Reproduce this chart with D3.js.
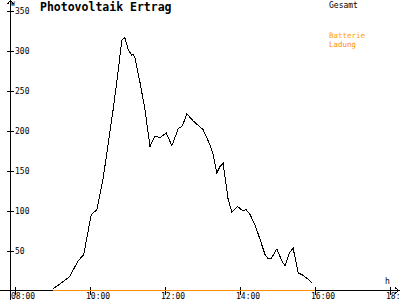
<!DOCTYPE html>
<html>
<head>
<meta charset="utf-8">
<script src="https://cdn.jsdelivr.net/npm/d3@7"></script>
<style>
  html, body { margin: 0; padding: 0; background: #fff; }
  svg { display: block; }
  text { font-family: "DejaVu Sans Mono", "Liberation Mono", monospace; }
</style>
</head>
<body>
<div id="chart"></div>
<script>
// Gesamt (W) over the day
const times = ["09:01", "09:27", "09:41", "09:50", "10:02", "10:11", "10:21", "10:37", "10:44", "10:51",
    "10:56", "11:01", "11:07", "11:09", "11:12", "11:20", "11:28", "11:36", "11:44", "11:52",
    "12:02", "12:11", "12:21", "12:28", "12:35", "12:45", "13:01", "13:12", "13:17", "13:23",
    "13:28", "13:33", "13:41", "13:47", "13:56", "14:04", "14:10", "14:16", "14:24", "14:32",
    "14:40", "14:45", "14:50", "14:59", "15:07", "15:12", "15:19", "15:25", "15:33", "15:41",
    "15:49", "15:56"];
const gesamt = [2, 17, 37, 45, 95, 101, 140, 226, 268, 313,
    316, 301, 294, 295, 291, 260, 226, 180, 193, 191,
    197, 181, 202, 206, 221, 212, 201, 182, 170, 147,
    155, 159, 114, 98, 105, 100, 101, 95, 82, 64,
    45, 40, 40, 52, 37, 31, 47, 53, 22, 19,
    14, 9];

// Batterie Ladung
const ladungTimes = ["09:01", "16:00"];
const ladung = [0, 0];

const yTicks = [50, 100, 150, 200, 250, 300, 350];
const xTicks = ["08:00", "10:00", "12:00", "14:00", "16:00", "18:00"];

const width = 400, height = 300;
const toHours = s => { const [h, m] = s.split(":").map(Number); return h + m / 60; };

const x = d3.scaleLinear().domain([8, 18]).range([15, 390]);
const y = d3.scaleLinear().domain([0, 350]).range([290.5, 10.5]);

const svg = d3.select("#chart").append("svg")
    .attr("width", width).attr("height", height);

// axes
const axisX = 10.5, axisY = 290.5;
const axes = svg.append("g").attr("stroke", "#000").attr("stroke-width", 1)
    .attr("fill", "none").attr("shape-rendering", "crispEdges");
axes.append("line").attr("x1", axisX).attr("x2", axisX).attr("y1", 0).attr("y2", height);
axes.append("line").attr("x1", 0).attr("x2", width).attr("y1", axisY).attr("y2", axisY);
axes.append("path").attr("d", `M${axisX - 3},4 L${axisX},0.5 L${axisX + 3},4`);
axes.append("path").attr("d", `M${width - 5},${axisY - 3} L${width - 1},${axisY} L${width - 5},${axisY + 3}`);

// y ticks
const yt = svg.append("g");
yt.selectAll("line").data(yTicks).join("line")
    .attr("x1", 7).attr("x2", 14)
    .attr("y1", d => Math.round(y(d)) + 0.5).attr("y2", d => Math.round(y(d)) + 0.5)
    .attr("stroke", "#000").attr("shape-rendering", "crispEdges");
yt.selectAll("text").data(yTicks).join("text")
    .attr("x", 15).attr("y", d => y(d) + 3)
    .attr("font-size", 8).attr("fill", "#000")
    .text(d => d);

// x ticks
const xt = svg.append("g");
xt.selectAll("line").data(xTicks).join("line")
    .attr("x1", d => Math.round(x(toHours(d))) + 0.5).attr("x2", d => Math.round(x(toHours(d))) + 0.5)
    .attr("y1", 287).attr("y2", 295)
    .attr("stroke", "#000").attr("shape-rendering", "crispEdges");
xt.selectAll("text").data(xTicks).join("text")
    .attr("x", d => x(toHours(d)) - 4).attr("y", 299)
    .attr("font-size", 8).attr("fill", "#000")
    .text(d => d);

// unit labels
svg.append("text").attr("x", 11).attr("y", 5.5).attr("font-size", 6.5).text("W");
svg.append("text").attr("x", 385).attr("y", 284).attr("font-size", 8).text("h");

// lines
const line = d3.line().x(d => x(d[0])).y(d => y(d[1]));
svg.append("path")
    .datum(times.map((t, i) => [toHours(t), gesamt[i]]))
    .attr("d", line).attr("fill", "none").attr("stroke", "#000").attr("stroke-width", 1)
    .attr("shape-rendering", "crispEdges");
svg.append("path")
    .datum(ladungTimes.map((t, i) => [toHours(t), ladung[i]]))
    .attr("d", line).attr("fill", "none").attr("stroke", "#ff8c00").attr("stroke-width", 1.5)
    .attr("shape-rendering", "crispEdges");

// title
svg.append("text").attr("x", 40).attr("y", 11).attr("font-size", 11.5)
    .attr("font-weight", "bold").attr("fill", "#000").text("Photovoltaik Ertrag");

// legend
svg.append("text").attr("x", 329).attr("y", 7.5).attr("font-size", 8).attr("fill", "#000").text("Gesamt");
svg.append("text").attr("x", 329).attr("y", 38).attr("font-size", 7.5).attr("fill", "#ffa500").text("Batterie");
svg.append("text").attr("x", 329).attr("y", 46.5).attr("font-size", 7.5).attr("fill", "#ff8c00").text("Ladung");
</script>
</body>
</html>
